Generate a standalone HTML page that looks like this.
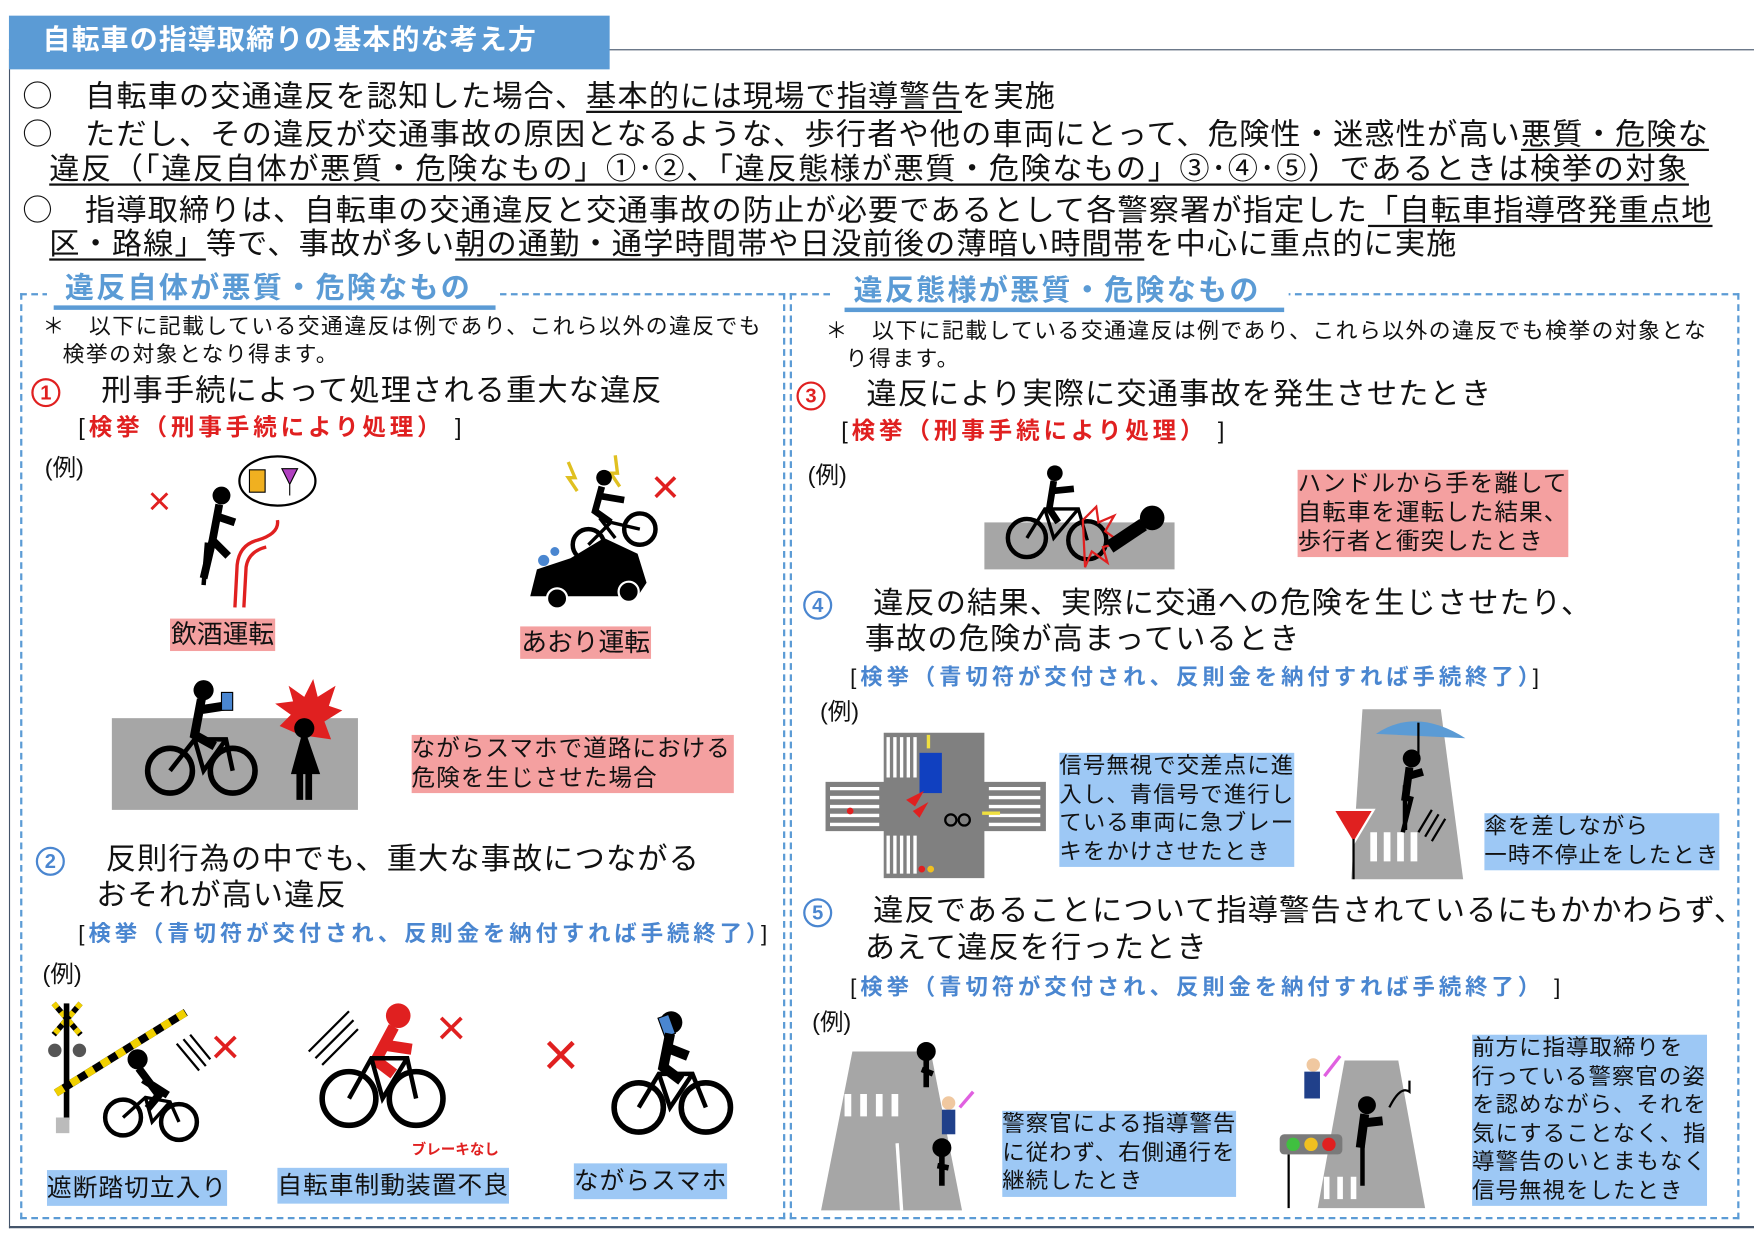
<!DOCTYPE html>
<html><head><meta charset="utf-8">
<style>
html,body{margin:0;padding:0;background:#fff;}
body{width:1754px;height:1241px;overflow:hidden;position:relative;}
#s{position:absolute;left:0;top:0;width:1568px;height:1110px;transform:scale(1.11862);transform-origin:0 0;font-family:"Liberation Sans","Noto Sans CJK JP",sans-serif;color:#111;}
.t{position:absolute;white-space:nowrap;line-height:1;}
.m{font-size:27px;letter-spacing:1px;}
.o{font-family:"Noto Sans CJK JP",sans-serif;}
.u{text-decoration:underline;text-underline-offset:4px;text-decoration-thickness:1.5px;}
.n{font-size:19.5px;letter-spacing:1.3px;}
.h{font-size:26px;font-weight:bold;color:#5b9bd5;letter-spacing:2px;}
.r{font-size:21px;font-weight:bold;color:#e02020;letter-spacing:3.5px;}
.b{font-size:20px;font-weight:bold;color:#4a86d0;letter-spacing:3.5px;}
.k{color:#111;font-weight:normal;}
.pk{position:absolute;background:#f4a0a0;font-size:21px;letter-spacing:1px;line-height:26px;white-space:nowrap;}
.bl{position:absolute;background:#9dc8f5;font-size:20px;letter-spacing:1px;line-height:25.5px;white-space:nowrap;}
.c{display:inline-block;width:22px;height:22px;border:2px solid;border-radius:50%;font-size:18px;text-align:center;line-height:22px;font-weight:bold;vertical-align:middle;letter-spacing:0;}
svg{position:absolute;overflow:visible;}
</style></head><body><div id="s">
<div style="position:absolute;left:8px;top:44px;width:1560px;height:1051px;border-left:1.5px solid #44546a;border-top:1.5px solid #44546a;border-bottom:2px solid #44546a;"></div>
<div style="position:absolute;left:8px;top:14px;width:537px;height:48px;background:#5b9bd5;"></div>
<div class="t" style="left:38px;top:24px;font-size:25px;font-weight:bold;color:#fff;letter-spacing:1px;">自転車の指導取締りの基本的な考え方</div>

<div class="t m" style="left:20px;top:70px;"><span class="o">○</span>　自転車の交通違反を認知した場合、<span class="u">基本的には現場で指導警告</span>を実施</div>
<div class="t m" style="left:20px;top:104px;"><span class="o">○</span>　ただし、その違反が交通事故の原因となるような、歩行者や他の車両にとって、危険性・迷惑性が高い<span class="u">悪質・危険な</span></div>
<div class="t m u" style="left:44px;top:138px;letter-spacing:1.4px;">違反（「違反自体が悪質・危険なもの」①･②、「違反態様が悪質・危険なもの」③･④･⑤）であるときは検挙の対象</div>
<div class="t m" style="left:20px;top:172px;"><span class="o">○</span>　指導取締りは、自転車の交通違反と交通事故の防止が必要であるとして各警察署が指定した<span class="u">「自転車指導啓発重点地</span></div>
<div class="t m" style="left:44px;top:205px;"><span class="u">区・路線」</span>等で、事故が多い<span class="u">朝の通勤・通学時間帯や日没前後の薄暗い時間帯</span>を中心に重点的に実施</div>

<div style="position:absolute;left:18px;top:262px;width:680px;height:824px;border:2px dashed #5b9bd5;"></div>
<div style="position:absolute;left:706px;top:262px;width:845px;height:824px;border:2px dashed #5b9bd5;"></div>
<div style="position:absolute;left:42px;top:240px;width:405px;height:32px;background:#fff;"></div>
<div style="position:absolute;left:742px;top:240px;width:410px;height:32px;background:#fff;"></div>
<div class="t h" style="left:58px;top:244px;">違反自体が悪質・危険なもの</div>
<div style="position:absolute;left:48px;top:273px;width:395px;height:4px;background:#5b9bd5;"></div>
<div class="t h" style="left:763px;top:246px;">違反態様が悪質・危険なもの</div>
<div style="position:absolute;left:755px;top:275px;width:393px;height:4px;background:#5b9bd5;"></div>

<div class="t n" style="left:38px;top:283px;">＊　以下に記載している交通違反は例であり、これら以外の違反でも</div>
<div class="t n" style="left:56px;top:308px;">検挙の対象となり得ます。</div>
<div class="t m" style="left:28px;top:336px;"><span class="c" style="color:#e02020;border-color:#e02020;">1</span>　 刑事手続によって処理される重大な違反</div>
<div class="t r" style="left:70px;top:372px;"><span class="k">[</span>検挙（刑事手続により処理）<span class="k"> ]</span></div>
<div class="t" style="left:40px;top:408px;font-size:21px;">(例)</div>

<svg style="left:130px;top:405px" width="160" height="140" viewBox="0 0 160 140">
<text x="2" y="55" font-size="36" fill="#e02020" font-family="Liberation Sans">×</text>
<circle cx="68" cy="38" r="8" fill="#000"/><path d="M66 46 L60 78 L74 92 M62 56 L80 62 M60 78 L52 112" stroke="#000" stroke-width="7" fill="none"/>
<path d="M55 80 L52 118" stroke="#000" stroke-width="4"/>
<path d="M80 138 L82 100 Q84 82 100 78 M88 138 L90 102 Q92 88 108 84 M100 78 Q120 72 118 60" stroke="#e02020" stroke-width="3" fill="none"/>
<ellipse cx="118" cy="25" rx="34" ry="22" fill="#fff" stroke="#000" stroke-width="2"/>
<rect x="93" y="15" width="14" height="20" fill="#f0b020" stroke="#000"/><path d="M122 14 L136 14 L129 28 Z M129 28 V38" fill="#b040c0" stroke="#000"/>
</svg>
<svg style="left:470px;top:405px" width="160" height="145" viewBox="0 0 160 145">
<text x="112" y="45" font-size="44" fill="#e02020" font-family="Liberation Sans">×</text>
<path d="M38 8 L44 22 L38 22 L46 34 M80 2 L82 18 L76 18 L84 30" stroke="#e0c020" stroke-width="3" fill="none"/>
<circle cx="70" cy="22" r="7" fill="#000"/><path d="M68 30 L62 52 L76 62 M64 38 L88 42" stroke="#000" stroke-width="6" fill="none"/>
<circle cx="56" cy="82" r="14" stroke="#000" stroke-width="4" fill="none"/><circle cx="102" cy="68" r="14" stroke="#000" stroke-width="4" fill="none"/>
<path d="M56 82 L76 62 L102 68 M66 58 L80 76" stroke="#000" stroke-width="3" fill="none"/>
<path d="M4 128 L10 104 L40 94 L70 76 L100 90 L108 116 L100 128 Z" fill="#000"/>
<circle cx="28" cy="130" r="9" fill="#000" stroke="#fff" stroke-width="2"/><circle cx="92" cy="124" r="9" fill="#000" stroke="#fff" stroke-width="2"/>
<circle cx="16" cy="96" r="5" fill="#4a86d0"/><circle cx="26" cy="88" r="4" fill="#4a86d0"/>
</svg>
<div class="t" style="left:152px;top:553px;background:#f4a0a0;font-size:23px;padding:3px 1px;">飲酒運転</div>
<div class="t" style="left:465px;top:560px;background:#f4a0a0;font-size:23px;padding:3px 1px;">あおり運転</div>

<svg style="left:100px;top:605px" width="225" height="122" viewBox="0 0 225 122">
<rect x="0" y="37" width="220" height="82" fill="#a6a6a6"/>
<circle cx="82" cy="12" r="9" fill="#000"/><path d="M80 20 L74 52 L92 62 M76 30 L102 26" stroke="#000" stroke-width="8" fill="none"/>
<rect x="98" y="14" width="10" height="16" fill="#4a86d0" stroke="#000"/>
<circle cx="52" cy="84" r="20" stroke="#000" stroke-width="5" fill="none"/><circle cx="108" cy="84" r="20" stroke="#000" stroke-width="5" fill="none"/>
<path d="M52 84 L74 56 L102 56 L108 84 M74 56 L82 84 L102 56" stroke="#000" stroke-width="4" fill="none"/>
<path d="M168 52 L150 44 L160 34 L146 24 L162 22 L158 8 L172 18 L180 2 L184 18 L200 8 L194 26 L206 30 L190 40 L196 56 Z" fill="#e02020"/>
<circle cx="172" cy="46" r="9" fill="#000"/><path d="M172 55 L164 84 L182 84 Z M168 84 V110 M176 84 V110" stroke="#000" stroke-width="6" fill="#000"/>
</svg>
<div class="pk" style="left:368px;top:657px;width:288px;">ながらスマホで道路における<br>危険を生じさせた場合</div>

<div class="t m" style="left:32px;top:755px;"><span class="c" style="color:#4a86d0;border-color:#4a86d0;">2</span>　 反則行為の中でも、重大な事故につながる</div>
<div class="t m" style="left:86px;top:787px;">おそれが高い違反</div>
<div class="t b" style="left:70px;top:825px;"><span class="k">[</span>検挙（青切符が交付され、反則金を納付すれば手続終了）<span class="k">]</span></div>
<div class="t" style="left:38px;top:861px;font-size:21px;">(例)</div>

<svg style="left:38px;top:895px" width="200" height="135" viewBox="0 0 200 135">
<path d="M10 2 L34 30 M34 2 L10 30" stroke="#000" stroke-width="5"/><path d="M10 2 L34 30 M34 2 L10 30" stroke="#f0d000" stroke-width="5" stroke-dasharray="5 5"/>
<rect x="19" y="2" width="5" height="104" fill="#000"/><circle cx="11" cy="44" r="6" fill="#555"/><circle cx="33" cy="44" r="6" fill="#555"/>
<rect x="12" y="104" width="12" height="14" fill="#bbb"/>
<path d="M12 82 L128 10" stroke="#000" stroke-width="7"/><path d="M12 82 L128 10" stroke="#f0d000" stroke-width="7" stroke-dasharray="8 8"/>
<path d="M120 38 L140 62 M126 34 L146 58 M132 30 L150 52" stroke="#000" stroke-width="2"/>
<circle cx="85" cy="52" r="9" fill="#000"/><path d="M86 60 L104 84 L94 96 M90 70 L112 84" stroke="#000" stroke-width="7" fill="none"/>
<circle cx="72" cy="104" r="16" stroke="#000" stroke-width="4" fill="none"/><circle cx="122" cy="108" r="16" stroke="#000" stroke-width="4" fill="none"/>
<path d="M72 104 L92 86 L114 90 L122 108 M92 86 L98 108 L114 90" stroke="#000" stroke-width="3" fill="none"/>
<text x="150" y="56" font-size="46" fill="#e02020" font-family="Liberation Sans">×</text>
</svg>
<svg style="left:272px;top:890px" width="200" height="125" viewBox="0 0 200 125">
<path d="M4 50 L40 14 M10 56 L44 22 M16 62 L48 30" stroke="#000" stroke-width="2"/>
<circle cx="84" cy="18" r="11" fill="#e02020"/><path d="M80 28 L64 58 L80 70 M70 44 L96 48" stroke="#e02020" stroke-width="10" fill="none"/>
<circle cx="40" cy="92" r="24" stroke="#000" stroke-width="5" fill="none"/><circle cx="100" cy="92" r="24" stroke="#000" stroke-width="5" fill="none"/>
<path d="M40 92 L60 56 L92 56 L100 92 M60 56 L70 92 L92 56" stroke="#000" stroke-width="4" fill="none"/>
<text x="118" y="44" font-size="46" fill="#e02020" font-family="Liberation Sans">×</text>
</svg>
<div class="t" style="left:368px;top:1021px;font-size:13px;font-weight:bold;color:#e02020;">ブレーキなし</div>
<svg style="left:485px;top:900px" width="180" height="130" viewBox="0 0 180 130">
<text x="0" y="62" font-size="56" fill="#e02020" font-family="Liberation Sans">×</text>
<circle cx="115" cy="14" r="10" fill="#000"/><rect x="106" y="8" width="10" height="18" fill="#4a86d0" stroke="#000" transform="rotate(-20 111 17)"/>
<path d="M114 24 L108 54 L124 66 M110 36 L130 44" stroke="#000" stroke-width="9" fill="none"/>
<circle cx="86" cy="90" r="22" stroke="#000" stroke-width="5" fill="none"/><circle cx="146" cy="90" r="22" stroke="#000" stroke-width="5" fill="none"/>
<path d="M86 90 L104 60 L134 60 L146 90 M104 60 L114 90 L134 60" stroke="#000" stroke-width="4" fill="none"/>
</svg>
<div class="bl" style="left:42px;top:1046px;font-size:22px;line-height:32px;">遮断踏切立入り</div>
<div class="bl" style="left:248px;top:1044px;font-size:22px;line-height:32px;">自転車制動装置不良</div>
<div class="bl" style="left:513px;top:1040px;font-size:22px;line-height:32px;">ながらスマホ</div>

<div class="t n" style="left:738px;top:287px;">＊　以下に記載している交通違反は例であり、これら以外の違反でも検挙の対象とな</div>
<div class="t n" style="left:756px;top:312px;">り得ます。</div>
<div class="t m" style="left:712px;top:339px;"><span class="c" style="color:#e02020;border-color:#e02020;">3</span>　 違反により実際に交通事故を発生させたとき</div>
<div class="t r" style="left:752px;top:375px;"><span class="k">[</span>検挙（刑事手続により処理）<span class="k"> ]</span></div>
<div class="t" style="left:722px;top:415px;font-size:21px;">(例)</div>
<svg style="left:880px;top:415px" width="175" height="95" viewBox="0 0 175 95">
<rect x="0" y="52" width="170" height="42" fill="#a6a6a6"/>
<circle cx="63" cy="8" r="7" fill="#000"/><path d="M62 15 L58 40 L66 52 M60 24 L80 22" stroke="#000" stroke-width="6" fill="none"/>
<circle cx="38" cy="66" r="17" stroke="#000" stroke-width="4" fill="none"/><circle cx="92" cy="68" r="17" stroke="#000" stroke-width="4" fill="none"/>
<path d="M38 66 L54 40 L84 40 L92 68 M54 40 L62 66 L84 40" stroke="#000" stroke-width="3" fill="none"/>
<path d="M88 50 L100 38 L102 52 L116 46 L108 60 L122 70 L106 74 L110 88 L96 78 L90 92 Z" fill="none" stroke="#e02020" stroke-width="2"/>
<circle cx="150" cy="48" r="11" fill="#000"/><path d="M142 54 L112 74" stroke="#000" stroke-width="12"/>
</svg>
<div class="pk" style="left:1160px;top:420px;">ハンドルから手を離して<br>自転車を運転した結果、<br>歩行者と衝突したとき</div>

<div class="t m" style="left:718px;top:526px;"><span class="c" style="color:#4a86d0;border-color:#4a86d0;">4</span>　 違反の結果、実際に交通への危険を生じさせたり、</div>
<div class="t m" style="left:773px;top:558px;">事故の危険が高まっているとき</div>
<div class="t b" style="left:760px;top:596px;"><span class="k">[</span>検挙（青切符が交付され、反則金を納付すれば手続終了）<span class="k">]</span></div>
<div class="t" style="left:733px;top:626px;font-size:21px;">(例)</div>
<svg style="left:738px;top:655px" width="200" height="132" viewBox="0 0 200 132">
<path d="M52 0 H142 V44 H197 V88 H142 V130 H52 V88 H0 V44 H52 Z" fill="#808080"/>
<path d="M56 4 V40 M62 4 V40 M68 4 V40 M74 4 V40 M80 4 V40 M56 92 V126 M62 92 V126 M68 92 V126 M74 92 V126 M80 92 V126" stroke="#fff" stroke-width="3"/>
<path d="M4 50 H48 M4 58 H48 M4 66 H48 M4 74 H48 M4 82 H48 M146 50 H192 M146 58 H192 M146 66 H192 M146 74 H192 M146 82 H192" stroke="#fff" stroke-width="3"/>
<rect x="84" y="18" width="20" height="36" fill="#1040c0"/><path d="M92 2 V14 M140 72 H156" stroke="#f0e040" stroke-width="3"/>
<path d="M72 60 L88 52 L80 66 Z M78 70 L92 62 L84 76 Z" fill="#e02020"/>
<circle cx="112" cy="78" r="5" fill="none" stroke="#000" stroke-width="2"/><circle cx="124" cy="78" r="5" fill="none" stroke="#000" stroke-width="2"/>
<circle cx="22" cy="70" r="3" fill="#e02020"/><circle cx="86" cy="122" r="3" fill="#e02020"/><circle cx="94" cy="122" r="3" fill="#f0c020"/>
</svg>
<div class="bl" style="left:947px;top:673px;">信号無視で交差点に進<br>入し、青信号で進行し<br>ている車両に急ブレー<br>キをかけさせたとき</div>
<svg style="left:1180px;top:632px" width="135" height="156" viewBox="0 0 135 156">
<path d="M38 2 H108 L128 154 H28 Z" fill="#a6a6a6"/>
<path d="M48 112 V138 M60 112 V138 M72 112 V138 M84 112 V138" stroke="#fff" stroke-width="6"/>
<path d="M88 112 L100 92 M94 116 L106 96 M100 120 L112 100" stroke="#000" stroke-width="2"/>
<path d="M50 24 Q86 0 130 28 Z" fill="#5b9bd5"/><path d="M88 14 V48" stroke="#000" stroke-width="2"/>
<circle cx="82" cy="46" r="8" fill="#000"/><path d="M80 54 L76 84 M78 62 L92 58" stroke="#000" stroke-width="7" fill="none"/>
<path d="M76 70 V110 M82 80 L74 112" stroke="#000" stroke-width="4"/>
<path d="M12 92 L48 92 L30 122 Z" fill="#e02020" stroke="#fff" stroke-width="2"/><path d="M30 118 V154" stroke="#000" stroke-width="2"/>
</svg>
<div class="bl" style="left:1327px;top:727px;">傘を差しながら<br>一時不停止をしたとき</div>

<div class="t m" style="left:718px;top:801px;"><span class="c" style="color:#4a86d0;border-color:#4a86d0;">5</span>　 違反であることについて指導警告されているにもかかわらず、</div>
<div class="t m" style="left:773px;top:834px;">あえて違反を行ったとき</div>
<div class="t b" style="left:760px;top:873px;"><span class="k">[</span>検挙（青切符が交付され、反則金を納付すれば手続終了）<span class="k"> ]</span></div>
<div class="t" style="left:726px;top:904px;font-size:21px;">(例)</div>
<svg style="left:732px;top:932px" width="145" height="152" viewBox="0 0 145 152">
<path d="M30 8 H100 L128 150 H2 Z" fill="#a6a6a6"/>
<path d="M26 46 V66 M40 46 V66 M54 46 V66 M68 46 V66" stroke="#fff" stroke-width="6"/><path d="M70 90 L74 150" stroke="#fff" stroke-width="3"/>
<g fill="#000" stroke="#000" stroke-width="5"><circle cx="96" cy="8" r="6"/><path d="M96 14 V40 M92 24 L102 28"/>
<circle cx="110" cy="94" r="6"/><path d="M110 100 V128 M106 110 L116 112"/></g>
<circle cx="116" cy="54" r="6" fill="#f0c8a0"/><rect x="110" y="60" width="12" height="22" fill="#20408a"/><path d="M126 58 L138 44" stroke="#e060e0" stroke-width="3"/>
</svg>
<div class="bl" style="left:896px;top:993px;">警察官による指導警告<br>に従わず、右側通行を<br>継続したとき</div>
<svg style="left:1142px;top:940px" width="140" height="145" viewBox="0 0 140 145">
<path d="M60 8 H108 L132 140 H36 Z" fill="#a6a6a6"/>
<path d="M44 112 V132 M56 112 V132 M68 112 V132" stroke="#fff" stroke-width="5"/>
<circle cx="32" cy="12" r="6" fill="#f0c8a0"/><rect x="24" y="18" width="14" height="24" fill="#20408a"/><path d="M42 22 L56 4" stroke="#e060e0" stroke-width="3"/>
<circle cx="80" cy="48" r="8" fill="#000"/><path d="M78 56 L74 86 M76 64 L94 62" stroke="#000" stroke-width="8" fill="none"/><path d="M76 80 V120" stroke="#000" stroke-width="4"/>
<path d="M100 50 Q110 30 118 36 V26" stroke="#000" stroke-width="2" fill="none"/>
<rect x="2" y="74" width="56" height="18" rx="4" fill="#7a7a7a"/><circle cx="14" cy="83" r="6" fill="#40c040"/><circle cx="30" cy="83" r="6" fill="#f0c020"/><circle cx="46" cy="83" r="6" fill="#e02020"/>
<path d="M10 92 V140" stroke="#000" stroke-width="2"/>
</svg>
<div class="bl" style="left:1316px;top:925px;">前方に指導取締りを<br>行っている警察官の姿<br>を認めながら、それを<br>気にすることなく、指<br>導警告のいとまもなく<br>信号無視をしたとき</div>
</div></body></html>
